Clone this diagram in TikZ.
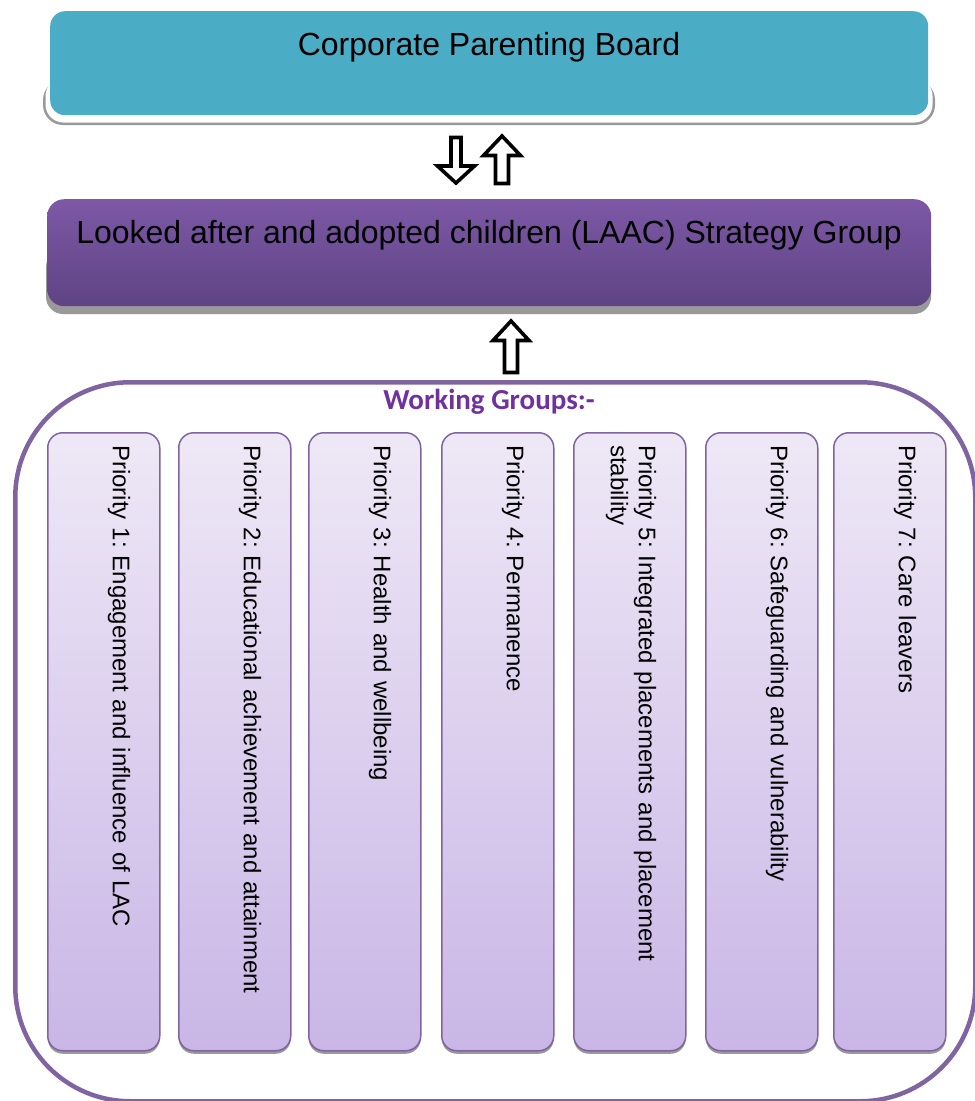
\documentclass[tikz,border=0pt]{standalone}
\usepackage{fontspec}
\setmainfont{Liberation Sans}
\newfontfamily\calibfont{Carlito}
\usetikzlibrary{calc}
\frenchspacing
\hyphenpenalty=10000
\exhyphenpenalty=10000
\definecolor{aqua}{HTML}{4BACC6}
\definecolor{purpleA}{HTML}{7D58A6}
\definecolor{purpleB}{HTML}{5E4484}
\definecolor{lineP}{HTML}{8064A2}
\definecolor{lightTop}{HTML}{EEE8F6}
\definecolor{lightBot}{HTML}{C9B6E6}
\definecolor{wgText}{HTML}{7030A0}
\definecolor{shadowgray}{HTML}{999999}
\begin{document}
\begin{tikzpicture}[x=1pt,y=-1pt,
  bigtext/.style={font=\fontsize{32}{38}\selectfont, text=black, inner sep=0pt},
  colbox/.style={preaction={fill=shadowgray, transform canvas={yshift=-3pt}},
    draw=lineP, line width=1.5pt, rounded corners=15pt, top color=lightTop, bottom color=lightBot,
    minimum width=112pt, minimum height=618pt, anchor=north west, inner sep=0pt},
  prio/.style={rotate=-90, anchor=north west, inner sep=0pt, text width=570pt, align=left,
    font=\fontsize{24}{28}\selectfont},
  blockarrow/.style={draw=black, fill=white, line width=3.6pt, miter limit=3}
]
\useasboundingbox (0,0) rectangle (975,1101);

% top box with shadow
\fill[shadowgray, rounded corners=20pt] (43,80) rectangle (935,125);
\fill[white, rounded corners=18pt] (45.5,78) rectangle (932.5,122.5);
\node[fill=aqua, rounded corners=15pt, minimum width=878pt, minimum height=104pt, inner sep=0pt, anchor=north west] (cpb) at (50,11) {};
\node[bigtext, anchor=base] (cpbt) at (489,55) {Corporate Parenting Board};

% second box with shadow
\fill[shadowgray, rounded corners=17pt] (46,250) rectangle (931,314);
\node[top color=purpleA, bottom color=purpleB, rounded corners=17pt, minimum width=884pt, minimum height=107pt, inner sep=0pt, anchor=north west] (laac) at (47,199) {};
\node[bigtext, anchor=base] (laact) at (489,243) {Looked after and adopted children (LAAC) Strategy Group};

% arrows between boxes
\draw[blockarrow] (451,137.5) -- (461,137.5) -- (461,166) -- (474.5,166) -- (456,183) -- (437.5,166) -- (451,166) -- cycle;
\draw[blockarrow] (495.5,183.5) -- (508.5,183.5) -- (508.5,155.5) -- (520.5,155.5) -- (502,136) -- (483.5,155.5) -- (495.5,155.5) -- cycle;
\draw[blockarrow] (504.5,372.5) -- (517.5,372.5) -- (517.5,340.5) -- (529,340.5) -- (511,321) -- (493,340.5) -- (504.5,340.5) -- cycle;

% container
\node[draw=lineP, line width=4.5pt, rounded corners=115pt, minimum width=960pt, minimum height=719pt, inner sep=0pt, anchor=north west] (wg) at (13,380) {};
\node[font=\calibfont\bfseries\fontsize{29}{34}\selectfont, text=wgText, anchor=base, inner sep=0pt] (wgl) at (489,409) {Working Groups:-};

% columns
\node[colbox] (c1) at (47,432) {};
\node[colbox] (c2) at (178,432) {};
\node[colbox] (c3) at (308,432) {};
\node[colbox] (c4) at (441,432) {};
\node[colbox] (c5) at (573,432) {};
\node[colbox] (c6) at (705,432) {};
\node[colbox] (c7) at (833,432) {};

\node[prio] (p1) at ($(c1.north east)+(-30,13)$) {Priority 1: Engagement and influence of LAC};
\node[prio] (p2) at ($(c2.north east)+(-30,13)$) {Priority 2: Educational achievement and attainment};
\node[prio] (p3) at ($(c3.north east)+(-30,13)$) {Priority 3: Health and wellbeing};
\node[prio] (p4) at ($(c4.north east)+(-30,13)$) {Priority 4: Permanence};
\node[prio] (p5) at ($(c5.north east)+(-30,13)$) {Priority 5: Integrated placements and placement stability};
\node[prio] (p6) at ($(c6.north east)+(-30,13)$) {Priority 6: Safeguarding and vulnerability};
\node[prio] (p7) at ($(c7.north east)+(-30,13)$) {Priority 7: Care leavers};
\end{tikzpicture}
\end{document}
